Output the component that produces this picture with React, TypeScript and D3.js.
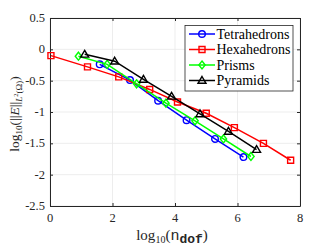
import React, { useEffect, useRef } from 'react';
import * as d3 from 'd3';

const xTicks = [0, 2, 4, 6, 8];
const yTicks = [0.5, 0, -0.5, -1, -1.5, -2, -2.5];

const tetraX = [1.59, 2.56, 3.46, 4.37, 5.28, 6.19];
const tetraY = [-0.24, -0.49, -0.82, -1.13, -1.43, -1.72];
const hexaX = [0.03, 1.2, 2.2, 3.19, 4.08, 5.0, 5.9, 6.83, 7.7];
const hexaY = [-0.1, -0.28, -0.44, -0.64, -0.84, -1.02, -1.25, -1.5, -1.77];
const prismX = [0.91, 1.83, 2.77, 3.71, 4.64, 5.55, 6.43];
const prismY = [-0.11, -0.24, -0.55, -0.86, -1.14, -1.43, -1.71];
const pyrX = [1.11, 2.07, 2.99, 3.89, 4.8, 5.71, 6.61];
const pyrY = [-0.08, -0.19, -0.48, -0.75, -1.03, -1.31, -1.6];

const seriesNames = ['Tetrahedrons', 'Hexahedrons', 'Prisms', 'Pyramids'];
const seriesColors = ['#0000ff', '#ff0000', '#00ff00', '#000000'];
const seriesShapes = ['circle', 'square', 'diamond', 'triangle'];

const W = 332;
const H = 249;
const FONT = "'Liberation Serif', 'Times New Roman', 'DejaVu Serif', serif";
const MONO = "'Liberation Mono', 'DejaVu Sans Mono', monospace";

function markerPath(shape: string, x: number, y: number) {
  if (shape === 'circle') {
    const r = 3.3;
    return `M${x + r},${y}A${r},${r} 0 1,1 ${x - r},${y}A${r},${r} 0 1,1 ${x + r},${y}Z`;
  }
  if (shape === 'square') {
    const s = 3;
    return `M${x - s},${y - s}H${x + s}V${y + s}H${x - s}Z`;
  }
  if (shape === 'diamond') {
    const s = 4;
    return `M${x},${y - s}L${x + s * 0.8},${y}L${x},${y + s}L${x - s * 0.8},${y}Z`;
  }
  const s = 4;
  return `M${x},${y - s}L${x + s},${y + s * 0.7}L${x - s},${y + s * 0.7}Z`;
}

const App = () => {
  const svgRef = useRef<SVGSVGElement>(null);

  useEffect(() => {
    const svg = d3.select(svgRef.current);
    svg.selectAll('*').remove();
    const margin = { top: 18, right: 32, bottom: 43, left: 50 };
    const x = d3.scaleLinear().domain([0, 8]).range([margin.left, W - margin.right]);
    const y = d3.scaleLinear().domain([-2.5, 0.5]).range([H - margin.bottom, margin.top]);
    const [x0, x1] = x.range();
    const [y0, y1] = y.range();

    svg.append('rect').attr('x', x0).attr('y', y1).attr('width', x1 - x0).attr('height', y0 - y1).attr('fill', '#fff');

    // grid
    const grid = svg.append('g').attr('stroke', '#e8e8e8').attr('stroke-width', 0.8);
    xTicks.forEach(t => grid.append('line').attr('x1', x(t)).attr('x2', x(t)).attr('y1', y0).attr('y2', y1));
    yTicks.forEach(t => grid.append('line').attr('x1', x0).attr('x2', x1).attr('y1', y(t)).attr('y2', y(t)));

    // box with inward ticks
    const axisColor = '#262626';
    svg.append('g').attr('transform', `translate(0,${y0})`)
      .call(d3.axisBottom(x).tickValues(xTicks).tickSizeInner(-3).tickSizeOuter(0).tickFormat(() => ''))
      .call(g => g.selectAll('line,path').attr('stroke', axisColor));
    svg.append('g').attr('transform', `translate(0,${y1})`)
      .call(d3.axisTop(x).tickValues(xTicks).tickSizeInner(-3).tickSizeOuter(0).tickFormat(() => ''))
      .call(g => g.selectAll('line,path').attr('stroke', axisColor));
    svg.append('g').attr('transform', `translate(${x0},0)`)
      .call(d3.axisLeft(y).tickValues(yTicks).tickSizeInner(-3).tickSizeOuter(0).tickFormat(() => ''))
      .call(g => g.selectAll('line,path').attr('stroke', axisColor));
    svg.append('g').attr('transform', `translate(${x1},0)`)
      .call(d3.axisRight(y).tickValues(yTicks).tickSizeInner(-3).tickSizeOuter(0).tickFormat(() => ''))
      .call(g => g.selectAll('line,path').attr('stroke', axisColor));

    // tick labels
    const lab = svg.append('g').style('font-family', FONT).style('font-size', '12.5px').attr('fill', '#262626');
    xTicks.forEach(t => lab.append('text').attr('x', x(t)).attr('y', y0 + 16).attr('text-anchor', 'middle').text(String(t)));
    yTicks.forEach(t => lab.append('text').attr('x', x0 - 5).attr('y', y(t) + 4).attr('text-anchor', 'end').text(String(t)));

    // series
    const xs = [tetraX, hexaX, prismX, pyrX];
    const ys = [tetraY, hexaY, prismY, pyrY];
    const line = d3.line<[number, number]>().x(d => x(d[0])).y(d => y(d[1]));
    xs.forEach((sx, i) => {
      const pts: [number, number][] = sx.map((v, j) => [v, ys[i][j]]);
      const g = svg.append('g');
      g.append('path').attr('d', line(pts)).attr('fill', 'none').attr('stroke', seriesColors[i]).attr('stroke-width', 1.5);
      pts.forEach(p => g.append('path').attr('d', markerPath(seriesShapes[i], x(p[0]), y(p[1])))
        .attr('fill', 'none').attr('stroke', seriesColors[i]).attr('stroke-width', 1.4));
    });

    // legend
    const lg = svg.append('g');
    lg.append('rect').attr('x', 185).attr('y', 25.5).attr('width', 108).attr('height', 65.5)
      .attr('fill', '#fff').attr('stroke', '#262626').attr('stroke-width', 0.8);
    seriesNames.forEach((name, i) => {
      const ly = 34 + i * 15.5;
      lg.append('line').attr('x1', 189).attr('x2', 215).attr('y1', ly).attr('y2', ly)
        .attr('stroke', seriesColors[i]).attr('stroke-width', 1.5);
      lg.append('path').attr('d', markerPath(seriesShapes[i], 202, ly)).attr('fill', 'none')
        .attr('stroke', seriesColors[i]).attr('stroke-width', 1.4);
      lg.append('text').attr('x', 216.5).attr('y', ly + 4.5).style('font-family', FONT).style('font-size', '14px')
        .attr('fill', '#000').text(name);
    });

    // x label
    const xl = svg.append('text').attr('x', 172).attr('y', 240).attr('text-anchor', 'middle')
      .style('font-family', FONT).style('font-size', '15px').attr('fill', '#262626');
    xl.append('tspan').text('log');
    xl.append('tspan').style('font-size', '10px').attr('dy', 3).text('10');
    xl.append('tspan').attr('dy', -3).text('(');
    xl.append('tspan').style('font-family', MONO).style('font-size', '15px').text('n');
    xl.append('tspan').style('font-family', MONO).style('font-size', '13px').attr('dy', 3).attr('font-weight', 'bold').text('dof');
    xl.append('tspan').attr('dy', -3).text(')');

    // y label
    const yl = svg.append('text').attr('transform', 'translate(19,114) rotate(-90)').attr('text-anchor', 'middle')
      .style('font-family', FONT).style('font-size', '13.5px').attr('fill', '#262626');
    yl.append('tspan').text('log');
    yl.append('tspan').style('font-size', '9px').attr('dy', 3).text('10');
    yl.append('tspan').attr('dy', -3).text('(||');
    yl.append('tspan').attr('font-style', 'italic').text('E');
    yl.append('tspan').text('||');
    yl.append('tspan').style('font-size', '9px').attr('dy', 3).attr('font-style', 'italic').text('L');
    yl.append('tspan').style('font-size', '6.5px').attr('dy', -4).text('2');
    yl.append('tspan').style('font-size', '9px').attr('dy', 4).text('(Ω)');
    yl.append('tspan').attr('dy', -3).text(')');
  }, []);

  return (
    <svg ref={svgRef} width={W} height={H} style={{ position: 'absolute', left: 0, top: 0, background: '#fff' }} />
  );
};

export default App;
